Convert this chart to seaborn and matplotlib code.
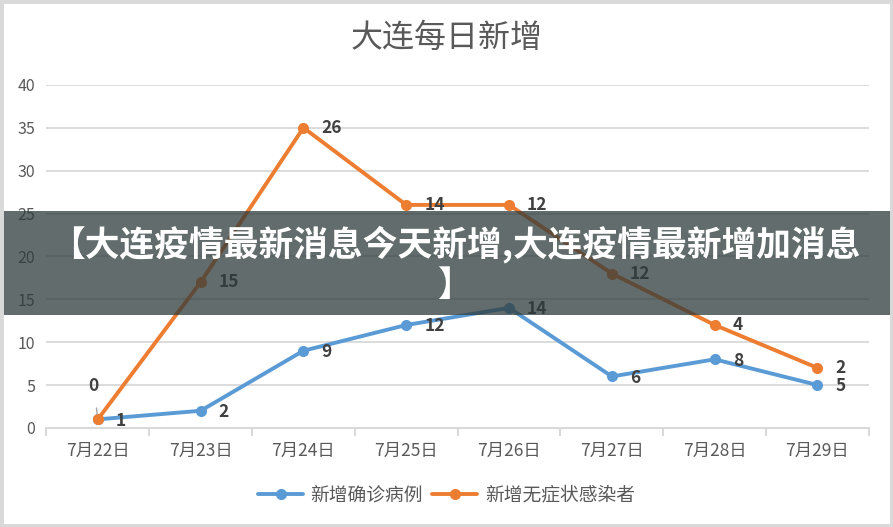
import pandas as pd
import matplotlib
matplotlib.use("Agg")
import matplotlib.pyplot as plt
from matplotlib.patches import Rectangle
import seaborn as sns

# chart data
dates = ["7月22日", "7月23日", "7月24日", "7月25日", "7月26日", "7月27日", "7月28日", "7月29日"]
confirmed = [1, 2, 9, 12, 14, 6, 8, 5]
asymptomatic = [0, 15, 26, 14, 12, 12, 4, 2]
series_names = ["新增确诊病例", "新增无症状感染者"]
title = "大连每日新增"
banner = "【大连疫情最新消息今天新增,大连疫情最新增加消息\n】"

# stacked line chart: second series sits on top of the first
stacked = [c + a for c, a in zip(confirmed, asymptomatic)]

df = pd.DataFrame({
    "date": dates * 2,
    "value": confirmed + stacked,
    "series": [series_names[0]] * len(dates) + [series_names[1]] * len(dates),
})

sns.set_theme(style="white")
plt.rcParams["font.family"] = ["Noto Sans CJK SC", "DejaVu Sans"]

blue = "#5B9BD5"
orange = "#ED7D31"
grey_txt = "#595959"
grid_c = "#D9D9D9"

fig = plt.figure(figsize=(8.93, 5.27), dpi=100)
ax = fig.add_axes([0.052, 0.188, 0.921, 0.651])

sns.lineplot(data=df, x="date", y="value", hue="series", palette=[blue, orange],
             marker="o", markersize=8, markeredgewidth=0, linewidth=2.8,
             sort=False, ax=ax, legend=False)

ax.set_xlim(-0.5, len(dates) - 0.5)
ax.set_ylim(0, 40)
ax.set_yticks(range(0, 41, 5))
ax.set_xlabel("")
ax.set_ylabel("")
ax.yaxis.grid(True, color=grid_c, linewidth=1.3)
ax.set_axisbelow(True)
for s in ["top", "right", "left"]:
    ax.spines[s].set_visible(False)
ax.spines["bottom"].set_color(grid_c)
ax.spines["bottom"].set_linewidth(1.5)
ax.set_xticks(range(len(dates)))
ax.set_xticklabels(dates)
ax.set_xticks([i - 0.5 for i in range(len(dates) + 1)], minor=True)
ax.tick_params(axis="x", which="major", length=0, pad=10, labelsize=12.5, labelcolor=grey_txt)
ax.tick_params(axis="x", which="minor", length=6, width=1.5, color=grid_c, bottom=True)
ax.tick_params(axis="y", length=0, pad=8, labelsize=11.5, labelcolor=grey_txt)

# data labels
lab_kw = dict(fontsize=12.5, fontweight="bold", color="#404040", va="center", ha="left")
for i in range(len(dates)):
    ax.annotate(str(confirmed[i]), (i, confirmed[i]), xytext=(13, -1),
                textcoords="offset points", **lab_kw)
    if i == 0:
        ax.annotate(str(asymptomatic[i]), (i, stacked[i]), xytext=(-3, 24),
                    textcoords="offset points", fontsize=12.5, fontweight="bold",
                    color="#404040", ha="center", va="center",
                    arrowprops=dict(arrowstyle="-", color="#A6A6A6", lw=1, shrinkA=7, shrinkB=4))
    else:
        ax.annotate(str(asymptomatic[i]), (i, stacked[i]), xytext=(13, 0),
                    textcoords="offset points", **lab_kw)

fig.text(0.5, 1 - 38 / 527, title, ha="center", va="center", fontsize=23, color=grey_txt)

handles = [plt.Line2D([], [], color=c, marker="o", markersize=8, markeredgewidth=0, linewidth=2.8)
           for c in [blue, orange]]
fig.legend(handles, series_names, loc="center", bbox_to_anchor=(0.5, 1 - 495 / 527), ncol=2,
           frameon=False, fontsize=13.5, handlelength=2.4, columnspacing=0.5, handletextpad=0.4,
           labelcolor=grey_txt)

# overlay banner
fig.patches.append(Rectangle((0, 1 - 315 / 527), 1, 104 / 527, transform=fig.transFigure,
                             facecolor="#2f3b3b", alpha=0.75, edgecolor="none", zorder=10))
fig.text(0.5 + 9 / 893, 1 - 264 / 527, banner, ha="center", va="center", fontsize=25,
         fontweight="bold", color="white", linespacing=1.2, zorder=11)

# outer frame
fig.patches.append(Rectangle((0, 0), 1, 1, transform=fig.transFigure, fill=False,
                             edgecolor=grid_c, linewidth=5, zorder=12))

fig.savefig("out.png", dpi=100)
